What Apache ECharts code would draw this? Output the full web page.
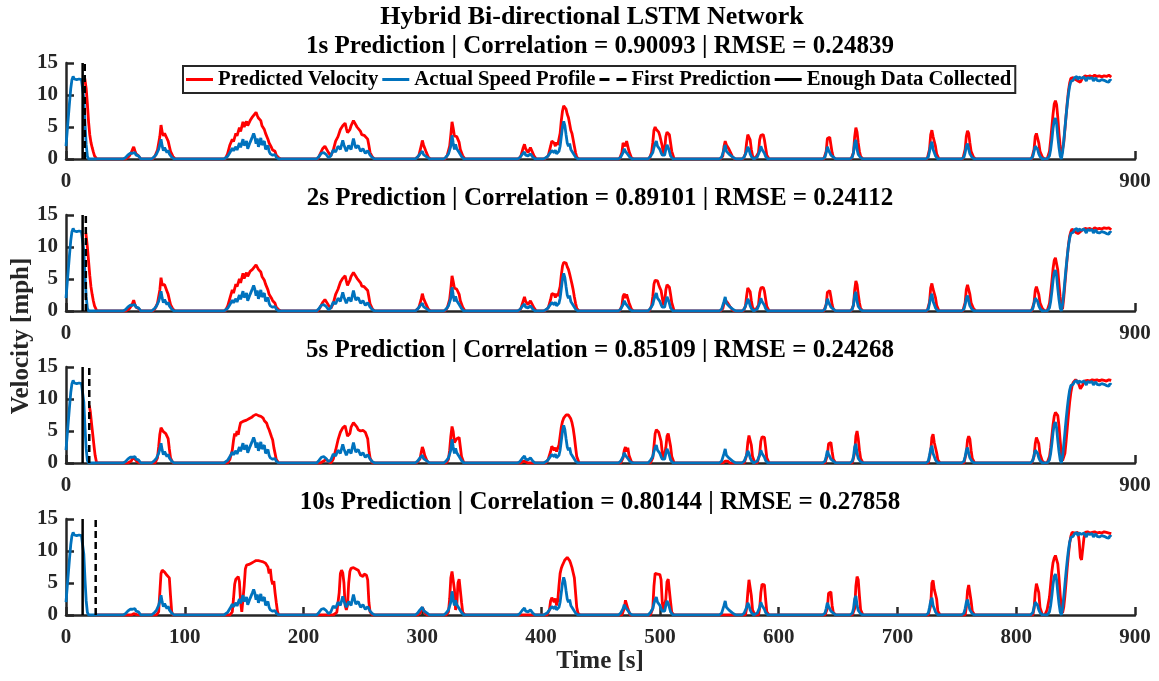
<!DOCTYPE html>
<html>
<head>
<meta charset="utf-8">
<script src="https://cdn.jsdelivr.net/npm/echarts@6/dist/echarts.min.js"></script>
<style>
  html, body { margin: 0; padding: 0; background: #fff; }
  #chart { width: 1159px; height: 681px; }
</style>
</head>
<body>
<div id="chart"></div>
<script>
// ---- data: [time (s), velocity (mph)] ----
const actualSpeed = [
  [0,2.0],[1,4.3],[2,6.6],[3,8.9],[4,11.0],[5,12.4],[6,12.9],[7,12.5],[8,12.8],[9,12.4],[10,12.7],[11,12.5],[12,12.6],[13,12.4],[14,12.5],[15,9.5],[16,5.5],[17,2.2],[18,0.4],[19,0],
  [48,0],[50,0.2],[52,0.6],[54,0.9],[55,0.6],[56,0.9],[57,0.7],[58,1.0],[59,0.6],[60,0.9],[61,0.5],[63,0],
  [72,0],[74,0.3],[76,0.7],[78,1.5],[79,2.2],[80,3.1],[81,2.0],[82,1.3],[83,1.8],[84,1.4],[85,1.0],[86,1.4],[87,0.8],[89,0.3],[91,0],
  [133,0],[136,0.4],[138,1.0],[140,1.7],[141,1.3],[143,1.9],[144,1.4],[146,2.5],[147,1.8],[149,3.1],[150,2.1],[152,2.8],[153,1.6],[155,2.6],[157,3.5],[158,4.0],[159,3.4],[160,2.4],[161,3.2],[162,1.9],[164,3.3],[165,2.2],[167,2.8],[168,1.5],[170,2.1],[171,1.2],[172,0.8],[174,0.6],[176,0.7],[177,0.3],[179,0],
  [211,0],[213,0.4],[215,0.9],[217,1.0],[219,0.7],[221,0.2],[223,0.5],[225,1.4],[227,1.1],[229,2.0],[231,1.5],[233,2.9],[234,2.2],[236,1.2],[238,2.1],[240,1.5],[242,3.2],[243,2.4],[244,1.7],[246,2.1],[248,1.2],[250,1.6],[252,0.9],[254,1.3],[256,0.6],[258,0.2],[260,0],
  [294,0],[296,0.3],[298,0.8],[300,1.2],[301,0.7],[302,1.0],[304,0.3],[306,0],
  [318,0],[320,0.3],[322,0.8],[324,2.0],[325,3.7],[326,2.5],[327,1.5],[328,2.3],[329,1.6],[330,1.8],[331,1.0],[333,0.4],[335,0],
  [380,0],[382,0.2],[384,0.7],[386,1.1],[387,0.6],[389,0.5],[391,0.8],[393,0.3],[395,0],
  [402,0],[405,0.3],[407,0.8],[409,1.3],[411,1.0],[412,1.4],[413,0.8],[415,1.2],[416,2.0],[417,3.5],[418,5.0],[419,5.9],[420,5.2],[421,3.8],[422,2.5],[423,2.0],[424,2.4],[425,1.5],[426,1.8],[427,0.9],[429,0.3],[431,0],
  [465,0],[467,0.3],[469,1.0],[470,1.6],[471,1.2],[472,1.5],[473,0.7],[475,0.2],[477,0],
  [490,0],[492,0.4],[494,1.0],[495,1.8],[496,2.4],[497,2.8],[498,2.0],[499,2.2],[500,1.5],[501,1.0],[502,0.6],[503,0.3],[504,0.6],[505,1.5],[506,2.2],[507,1.8],[508,1.2],[509,0.5],[511,0],
  [550,0],[552,0.3],[554,1.5],[555,2.2],[556,1.2],[557,1.0],[558,0.8],[560,0.5],[562,0.2],[564,0],
  [569,0],[571,0.3],[573,1.2],[574,1.9],[575,1.5],[576,0.8],[577,0.4],[579,0],
  [580,0],[582,0.3],[584,1.2],[585,2.0],[586,1.5],[587,1.8],[588,0.9],[589,0.4],[591,0],
  [637,0],[639,0.3],[640,1.0],[641,1.9],[642,1.4],[643,1.0],[644,0.6],[646,0.3],[648,0],
  [660,0],[662,0.3],[663,1.0],[664,2.5],[665,3.0],[666,1.5],[667,0.7],[669,0.2],[671,0],
  [724,0],[726,0.3],[727,1.2],[728,2.2],[729,2.7],[730,1.5],[731,1.0],[732,0.5],[734,0],
  [754,0],[756,0.3],[757,1.0],[758,2.0],[759,2.4],[760,1.5],[761,0.8],[763,0.2],[765,0],
  [812,0],[814,0.4],[815,1.2],[816,2.0],[817,2.1],[818,1.5],[819,0.8],[820,0.4],[822,0],
  [826,0],[828,0.5],[829,1.5],[830,3.0],[831,4.8],[832,6.0],[833,6.4],[834,5.5],[835,3.5],[836,1.8],[837,0.5],[838,0],
  [839,1.0],[840,2.8],[841,4.8],[842,6.8],[843,8.6],[844,10.2],[845,11.4],[846,12.1],[847,12.4],[848,12.3],[849,12.7],[850,12.5],[851,12.9],[852,12.4],[853,12.8],[854,12.5],[855,12.6],[856,12.3],[857,12.8],[858,12.5],[859,12.2],[860,12.7],[861,12.4],[862,12.6],[863,12.3],[864,12.7],[865,12.2],[866,12.5],[867,12.7],[868,12.3],[869,12.6],[870,12.2],[871,12.5],[872,12.4],[873,12.7],[874,12.3],[875,12.6],[876,12.1],[877,12.4],[878,12.0],[879,12.4],[880,12.2]
];

const pred1s = [
  [15.8,12.6],[17,11.0],[18,8.6],[19,5.8],[20,3.8],[21,2.6],[22,1.8],[23,1.1],[24,0.5],[26,0],
  [50,0],[53,0.4],[55,1.0],[56,1.5],[57,1.9],[58,1.3],[59,0.8],[60,1.0],[61,0.5],[63,0],
  [73,0],[75,0.5],[77,1.4],[79,3.5],[80,5.3],[81,4.2],[82,3.6],[83,4.0],[84,3.7],[85,3.2],[86,2.8],[87,2.0],[88,1.2],[90,0.4],[92,0],
  [134,0],[136,0.8],[138,2.2],[140,3.1],[141,2.7],[143,4.0],[144,3.6],[146,4.9],[147,4.3],[149,5.8],[150,5.0],[152,5.9],[153,5.2],[155,6.0],[157,6.6],[158,6.9],[160,7.3],[161,6.8],[162,6.4],[163,6.6],[164,6.0],[165,5.2],[166,5.5],[167,4.6],[168,4.0],[169,4.3],[170,3.1],[171,2.5],[172,2.7],[173,1.8],[174,1.4],[176,1.2],[177,0.6],[179,0.2],[181,0],
  [212,0],[214,0.8],[216,1.6],[218,2.0],[219,1.8],[221,1.0],[223,0.5],[225,1.4],[227,2.8],[229,3.5],[231,4.6],[233,5.2],[235,5.6],[236,4.8],[237,4.1],[239,4.6],[240,5.2],[242,6.0],[243,5.7],[245,5.0],[246,4.7],[248,4.3],[249,3.8],[251,3.7],[252,3.4],[254,3.1],[255,2.1],[256,1.0],[258,0.3],[260,0],
  [294,0],[297,0.5],[299,2.0],[300,2.9],[301,2.2],[303,1.2],[305,0.3],[307,0],
  [319,0],[321,0.6],[323,2.0],[324,3.8],[325,5.8],[326,4.8],[327,3.6],[328,3.8],[329,3.5],[330,3.3],[331,2.6],[332,1.5],[334,0.5],[336,0],
  [381,0],[383,0.5],[385,1.8],[386,2.3],[387,1.6],[389,1.0],[391,1.8],[392,1.5],[394,0.5],[396,0],
  [403,0],[406,0.5],[408,2.0],[409,2.8],[410,3.0],[411,2.5],[412,2.0],[413,2.6],[414,2.2],[415,2.5],[416,4.0],[417,6.0],[418,7.5],[419,8.3],[420,8.5],[421,7.8],[422,7.0],[423,6.5],[424,5.5],[425,4.5],[426,4.0],[427,3.0],[428,2.0],[429,1.0],[430,0.3],[432,0],
  [466,0],[468,1.0],[469,2.5],[470,2.8],[471,2.0],[472,2.8],[473,2.5],[474,1.2],[476,0.2],[478,0],
  [491,0],[493,1.0],[494,2.5],[495,4.5],[496,5.0],[497,4.6],[498,4.9],[499,4.2],[500,3.6],[501,3.3],[502,2.0],[503,0.8],[504,1.5],[505,3.5],[506,4.2],[507,3.9],[508,3.8],[509,2.5],[510,1.2],[512,0],
  [551,0],[553,0.5],[554,2.0],[555,2.8],[556,2.2],[557,2.0],[558,1.6],[559,1.2],[561,0.4],[563,0],
  [570,0],[572,0.8],[573,2.5],[574,3.8],[575,3.9],[576,3.0],[577,1.5],[578,0.5],[580,0],
  [581,0],[583,1.0],[584,3.0],[585,3.7],[586,3.5],[587,3.8],[588,3.0],[589,1.8],[590,0.6],[592,0],
  [638,0],[640,1.2],[641,3.2],[642,3.0],[643,3.4],[644,2.2],[645,1.0],[646,0.3],[648,0],
  [661,0],[663,1.0],[664,3.5],[665,4.9],[666,4.2],[667,2.5],[668,1.2],[669,0.4],[671,0],
  [725,0],[727,1.5],[728,3.8],[729,4.5],[730,3.5],[731,3.6],[732,2.0],[733,0.8],[735,0],
  [755,0],[757,1.5],[758,3.6],[759,4.4],[760,4.0],[761,2.5],[762,1.2],[764,0.3],[766,0],
  [813,0],[815,1.5],[816,3.5],[817,4.0],[818,3.7],[819,2.5],[820,1.2],[822,0.3],[824,0],
  [826,0],[828,1.2],[829,3.0],[830,5.0],[831,7.0],[832,8.6],[833,9.1],[834,8.5],[835,6.5],[836,4.0],[837,2.0],[838,0.5],[839,0.3],
  [840,2.5],[841,4.6],[842,6.8],[843,8.9],[844,10.7],[845,11.9],[846,12.6],[847,12.9],[848,12.7],[850,12.4],[852,12.2],[854,12.0],[855,12.3],[856,12.7],[858,13.0],[860,12.8],[862,13.0],[864,12.8],[866,13.1],[868,12.9],[870,13.0],[872,12.8],[874,13.0],[876,12.9],[878,13.1],[880,12.8]
];

const pred2s = [
  [16.7,12.2],[18,10.0],[19,7.8],[20,5.6],[21,3.8],[22,2.6],[23,1.6],[24,0.8],[26,0],
  [50,0],[53,0.3],[55,0.8],[56,1.2],[57,1.7],[58,1.0],[59,0.6],[60,0.8],[61,0.4],[63,0],
  [73,0],[75,0.4],[77,1.2],[79,3.3],[80,5.2],[81,4.1],[82,3.8],[83,4.1],[84,3.6],[85,3.1],[86,2.6],[87,1.8],[88,1.0],[90,0.3],[92,0],
  [134,0],[136,0.7],[138,2.0],[140,3.3],[141,2.8],[143,4.2],[144,3.8],[146,5.0],[147,4.4],[149,5.9],[150,5.1],[152,6.0],[153,5.4],[155,6.2],[157,6.5],[158,6.8],[160,7.2],[161,6.9],[162,6.5],[163,6.7],[164,6.1],[165,5.4],[166,5.6],[167,4.8],[168,4.2],[169,4.4],[170,3.3],[171,2.6],[172,2.8],[173,2.0],[174,1.6],[176,1.2],[177,0.6],[179,0.2],[181,0],
  [212,0],[214,0.6],[216,1.3],[218,1.8],[219,1.6],[221,0.9],[223,0.4],[225,1.2],[227,2.6],[229,3.4],[231,4.5],[233,5.1],[235,5.5],[236,4.7],[237,4.0],[239,4.8],[240,5.4],[242,6.0],[243,5.8],[245,5.1],[246,4.8],[248,4.4],[249,3.9],[251,3.8],[252,3.5],[254,3.2],[255,2.2],[256,1.1],[258,0.3],[260,0],
  [294,0],[297,0.5],[299,1.8],[300,2.7],[301,2.0],[303,1.1],[305,0.3],[307,0],
  [319,0],[321,0.5],[323,1.8],[324,3.5],[325,5.5],[326,4.6],[327,3.6],[328,3.8],[329,3.4],[330,3.2],[331,2.6],[332,1.6],[334,0.6],[336,0],
  [381,0],[383,0.4],[385,1.6],[386,2.2],[387,1.5],[389,1.0],[391,1.6],[392,1.4],[394,0.5],[396,0],
  [403,0],[406,0.5],[408,1.8],[409,2.7],[410,3.0],[411,2.6],[412,2.1],[413,2.7],[414,2.3],[415,2.6],[416,3.8],[417,5.6],[418,7.0],[419,7.6],[420,7.8],[421,7.5],[422,6.9],[423,6.5],[424,5.8],[425,5.0],[426,4.2],[427,3.3],[428,2.2],[429,1.2],[430,0.4],[432,0],
  [466,0],[468,0.8],[469,2.3],[470,2.7],[471,2.0],[472,2.6],[473,2.4],[474,1.3],[476,0.3],[478,0],
  [491,0],[493,0.8],[494,2.2],[495,4.2],[496,4.8],[497,4.5],[498,4.7],[499,4.1],[500,3.6],[501,3.2],[502,2.1],[503,0.9],[504,1.4],[505,3.3],[506,4.1],[507,4.0],[508,3.7],[509,2.6],[510,1.3],[512,0],
  [551,0],[553,0.4],[554,1.2],[555,1.7],[556,1.4],[557,1.3],[558,1.0],[559,0.7],[561,0.2],[563,0],
  [570,0],[572,0.7],[573,2.3],[574,3.6],[575,3.7],[576,3.0],[577,1.6],[578,0.6],[580,0],
  [581,0],[583,0.9],[584,2.8],[585,3.6],[586,3.4],[587,3.7],[588,3.1],[589,1.9],[590,0.7],[592,0],
  [638,0],[640,1.0],[641,2.9],[642,2.8],[643,3.2],[644,2.2],[645,1.0],[646,0.3],[648,0],
  [661,0],[663,0.9],[664,3.3],[665,4.7],[666,4.1],[667,2.6],[668,1.3],[669,0.4],[671,0],
  [725,0],[727,1.4],[728,3.6],[729,4.3],[730,3.4],[731,3.5],[732,2.1],[733,0.9],[735,0],
  [755,0],[757,1.3],[758,3.4],[759,4.1],[760,3.9],[761,2.6],[762,1.3],[764,0.4],[766,0],
  [813,0],[815,1.3],[816,3.2],[817,3.8],[818,3.6],[819,2.6],[820,1.3],[822,0.4],[824,0],
  [826,0],[828,1.2],[829,2.8],[830,4.6],[831,6.6],[832,7.9],[833,8.3],[834,8.0],[835,6.4],[836,4.2],[837,2.2],[838,0.7],[839,0.3],
  [840,2.0],[841,4.2],[842,6.4],[843,8.5],[844,10.4],[845,11.7],[846,12.4],[847,12.8],[848,12.6],[850,12.3],[852,12.1],[854,12.4],[856,12.7],[858,12.9],[860,12.8],[862,12.9],[864,12.7],[866,13.0],[868,12.8],[870,12.9],[872,12.8],[874,13.0],[876,12.9],[878,13.0],[880,12.7]
];

const pred5s = [
  [19.6,9.0],[20.5,8.0],[21.5,6.2],[22.5,4.5],[23.5,2.8],[24.5,1.2],[25.8,0],
  [52,0],[55,0.3],[56,0.8],[57,1.1],[58,0.6],[60,0.2],[62,0],
  [75,0],[77,0.8],[78,2.5],[79,4.5],[80,5.5],[81,5.3],[82,4.9],[83,5.0],[84,4.6],[85,4.8],[86,3.8],[87,2.2],[88,0.8],[90,0],
  [136,0],[138,0.6],[140,2.0],[141,3.5],[142,4.6],[143,4.2],[144,5.0],[145,4.4],[146,5.5],[147,6.3],[148,6.0],[149,6.5],[150,6.4],[152,6.7],[154,6.9],[156,7.1],[158,7.4],[160,7.6],[162,7.4],[164,7.3],[166,7.0],[167,6.6],[168,6.3],[169,6.2],[170,5.6],[171,5.2],[172,5.0],[173,4.1],[174,3.6],[175,2.4],[176,1.5],[177,0.6],[179,0],
  [214,0],[217,0.3],[219,0.6],[221,0.2],[223,0],[225,0.6],[227,2.0],[229,3.6],[231,4.8],[233,5.5],[235,5.8],[236,5.0],[237,4.2],[238,4.0],[239,4.6],[240,5.6],[242,6.3],[243,6.1],[245,5.6],[246,5.2],[248,5.0],[250,5.1],[252,4.8],[253,4.9],[254,3.8],[255,2.0],[256,0.8],[258,0],
  [295,0],[298,0.6],[299,1.6],[300,2.5],[301,2.0],[302,1.2],[304,0.3],[306,0],
  [320,0],[322,0.6],[323,2.0],[324,4.2],[325,5.7],[326,4.9],[327,3.2],[328,3.0],[329,3.8],[330,4.1],[331,4.0],[332,2.5],[333,1.0],[335,0],
  [383,0],[385,0.3],[386,0.5],[387,0.2],[389,0],
  [404,0],[406,0.6],[408,1.8],[409,2.6],[410,2.9],[411,2.0],[412,2.4],[413,1.8],[414,2.1],[415,2.8],[416,4.2],[417,5.6],[418,6.5],[419,7.0],[420,7.3],[421,7.5],[422,7.6],[423,7.5],[424,7.3],[425,6.9],[426,6.3],[427,5.4],[428,4.1],[429,2.5],[430,1.0],[432,0],
  [467,0],[469,0.8],[470,2.0],[471,2.5],[472,1.8],[473,2.4],[474,1.2],[476,0.2],[478,0],
  [492,0],[494,0.8],[495,2.6],[496,4.6],[497,5.2],[498,5.4],[499,4.8],[500,4.5],[501,3.4],[502,1.6],[503,0.5],[504,0.6],[505,2.4],[506,4.2],[507,4.6],[508,4.4],[509,2.6],[510,1.0],[512,0],
  [553,0],[555,0.3],[556,0.5],[557,0.3],[559,0],
  [571,0],[573,1.2],[574,3.2],[575,4.3],[576,4.2],[577,2.8],[578,1.0],[580,0],
  [582,0],[584,1.4],[585,3.4],[586,4.1],[587,3.9],[588,4.0],[589,2.5],[590,0.8],[592,0],
  [639,0],[641,1.2],[642,3.0],[643,3.3],[644,3.2],[645,1.8],[646,0.6],[648,0],
  [662,0],[664,1.6],[665,4.2],[666,5.0],[667,3.8],[668,2.0],[669,0.7],[671,0],
  [726,0],[728,1.8],[729,4.0],[730,4.5],[731,3.2],[732,3.4],[733,1.6],[734,0.5],[736,0],
  [756,0],[758,1.6],[759,3.6],[760,4.2],[761,3.7],[762,2.0],[763,0.7],[765,0],
  [813,0],[815,1.0],[816,3.0],[817,4.0],[818,4.1],[819,3.0],[820,1.4],[822,0.3],[824,0],
  [826,0],[828,1.0],[829,2.4],[830,4.2],[831,6.0],[832,7.3],[833,7.9],[834,8.0],[835,7.4],[836,5.8],[837,3.5],[838,1.5],[839,0.4],[840,0.3],
  [841,1.5],[842,3.4],[843,5.5],[844,7.6],[845,9.5],[846,11.0],[847,12.0],[848,12.6],[849,12.9],[850,13.0],[852,12.7],[854,11.6],[855,11.4],[856,12.2],[857,12.8],[858,13.0],[860,12.9],[862,12.8],[864,13.0],[866,12.9],[868,13.0],[870,12.8],[872,13.0],[874,12.9],[876,12.8],[878,13.0],[880,12.9]
];

const pred10s = [
  [25,0],
  [55,0],[57,0.2],[58,0.4],[59,0.1],[61,0],
  [76,0],[78,0.5],[79,3.5],[80,6.5],[81,7.0],[82,6.9],[83,6.7],[84,6.8],[85,6.2],[86,6.0],[87,5.8],[88,3.0],[89,0.5],[90,0],
  [138,0],[140,0.5],[141,2.5],[142,4.8],[143,5.6],[144,5.8],[145,6.0],[146,5.2],[147,2.0],[148,0.5],[149,0.8],[150,4.5],[151,7.2],[152,7.8],[154,7.9],[156,8.1],[158,8.3],[160,8.5],[162,8.5],[164,8.4],[166,8.3],[168,8.1],[169,7.9],[170,7.5],[171,6.5],[172,7.2],[173,5.5],[174,4.8],[175,5.3],[176,3.5],[177,2.0],[178,0.6],[179,0],
  [225,0],[228,0.4],[230,3.5],[231,6.5],[232,7.0],[233,6.6],[234,5.0],[235,1.5],[236,0.8],[237,1.5],[238,5.0],[239,6.8],[240,7.3],[241,7.5],[242,7.4],[244,7.2],[246,7.0],[247,6.6],[248,6.2],[249,6.5],[250,6.0],[251,6.4],[252,6.1],[253,6.2],[254,5.5],[255,2.0],[256,0.5],[258,0],
  [296,0],[298,0.3],[300,1.2],[301,1.0],[302,0.4],[304,0],
  [320,0],[322,0.5],[323,2.5],[324,5.8],[325,6.8],[326,6.5],[327,4.0],[328,0.8],[329,1.5],[330,5.0],[331,5.6],[332,5.3],[333,2.0],[334,0.4],[336,0],
  [405,0],[407,0.8],[408,2.2],[409,2.7],[410,2.5],[411,2.0],[412,2.6],[413,1.5],[414,2.2],[415,4.5],[416,6.5],[417,7.3],[418,7.8],[419,8.2],[420,8.6],[421,8.9],[422,9.0],[423,8.8],[424,8.5],[425,8.0],[426,7.4],[427,6.6],[428,5.8],[429,3.5],[430,1.2],[431,0.3],[433,0],
  [468,0],[470,1.0],[471,2.3],[472,2.0],[473,1.0],[475,0],
  [492,0],[494,1.0],[495,4.5],[496,6.5],[497,6.7],[498,6.4],[499,6.5],[500,6.3],[501,5.5],[502,2.0],[503,0.5],[504,0.3],[505,2.5],[506,5.2],[507,5.6],[508,5.4],[509,2.0],[510,0.4],[512,0],
  [572,0],[573,1.0],[574,3.5],[575,5.5],[576,5.3],[577,3.0],[578,0.8],[580,0],
  [583,0],[584,1.0],[585,3.5],[586,4.8],[587,4.6],[588,4.7],[589,2.5],[590,0.5],[592,0],
  [639,0],[641,1.0],[642,3.4],[643,3.7],[644,3.6],[645,1.5],[646,0.4],[648,0],
  [662,0],[664,1.0],[665,4.5],[666,6.0],[667,5.5],[668,3.0],[669,0.8],[671,0],
  [726,0],[728,1.5],[729,5.0],[730,5.4],[731,4.0],[732,4.3],[733,2.5],[734,0.6],[736,0],
  [757,0],[758,1.2],[759,3.8],[760,4.7],[761,4.4],[762,2.2],[763,0.6],[765,0],
  [814,0],[815,1.0],[816,3.5],[817,4.9],[818,4.8],[819,3.5],[820,1.2],[822,0],
  [824,0],[826,0.8],[828,2.8],[829,4.8],[830,6.8],[831,8.2],[832,8.9],[833,9.3],[834,9.1],[835,8.0],[836,5.8],[837,3.2],[838,1.2],[839,0.3],
  [840,1.2],[841,3.0],[842,5.2],[843,7.5],[844,9.5],[845,11.2],[846,12.3],[847,12.9],[848,13.0],[850,12.8],[852,12.9],[853,11.5],[854,9.0],[855,8.6],[856,8.8],[857,12.0],[858,12.9],[860,13.0],[862,12.8],[864,12.9],[866,13.0],[868,12.8],[870,12.9],[872,12.8],[874,13.0],[876,12.9],[878,12.8],[880,12.7]
];

// per-panel metadata
const horizonLabels = ['1s', '2s', '5s', '10s'];
const correlations = ['0.90093', '0.89101', '0.85109', '0.80144'];
const rmses = ['0.24839', '0.24112', '0.24268', '0.27858'];
const predictions = [pred1s, pred2s, pred5s, pred10s];
const enoughDataTime = 14;                          // s, same in every panel
const firstPredictionTimes = [15.8, 16.7, 19.6, 25]; // s
const xTicksTop = [0, 900];
const xTicksBottom = [0, 100, 200, 300, 400, 500, 600, 700, 800, 900];
const yTicks = [0, 5, 10, 15];

// ---- layout ----
const FONT = '"Liberation Serif", "Times New Roman", serif';
const AXIS_COLOR = '#262626';
const RED = '#ff0000';
const BLUE = '#0072bd';
const LINE_W = 2.8;
const panelTops = [63, 215, 367, 519];
const panelHeight = 96;
const plotLeft = 66, plotRight = 1135;

// legend glyphs: plain line, and a two-dash line
const ICON_SOLID = 'rect';
const ICON_DASHED = 'path://M0,0h10v3H0z M17,0h10v3H17z';

const grids = [], xAxes = [], yAxes = [], series = [], graphics = [];

predictions.forEach((pred, i) => {
  grids.push({ left: plotLeft, width: plotRight - plotLeft, top: panelTops[i], height: panelHeight, outerBoundsMode: 'none' });
  const ticks = i === 3 ? xTicksBottom : xTicksTop;
  xAxes.push({
    gridIndex: i, type: 'value', min: ticks[0], max: ticks[ticks.length - 1],
    interval: ticks[1] - ticks[0],
    axisLine: { show: true, onZero: false, lineStyle: { color: AXIS_COLOR, width: 2.5 } },
    axisTick: { show: true, inside: true, length: 8, lineStyle: { color: AXIS_COLOR, width: 2.5 } },
    axisLabel: { show: true, margin: 12, color: AXIS_COLOR, fontFamily: FONT, fontWeight: 'bold', fontSize: 21, showMinLabel: true, showMaxLabel: true, hideOverlap: false },
    splitLine: { show: false }
  });
  yAxes.push({
    gridIndex: i, type: 'value', min: yTicks[0], max: yTicks[yTicks.length - 1], interval: yTicks[1] - yTicks[0],
    axisLine: { show: true, lineStyle: { color: AXIS_COLOR, width: 2.5 } },
    axisTick: { show: true, inside: true, length: 8, lineStyle: { color: AXIS_COLOR, width: 2.5 } },
    axisLabel: { show: true, margin: 8, color: AXIS_COLOR, fontFamily: FONT, fontWeight: 'bold', fontSize: 21, showMinLabel: true, showMaxLabel: true },
    splitLine: { show: false }
  });
  series.push({
    name: 'Predicted Velocity', type: 'line', xAxisIndex: i, yAxisIndex: i,
    data: pred, symbol: 'none', z: 2, animation: false,
    lineStyle: { color: RED, width: LINE_W }, itemStyle: { color: RED }
  });
  series.push({
    name: 'Actual Speed Profile', type: 'line', xAxisIndex: i, yAxisIndex: i,
    data: actualSpeed, symbol: 'none', z: 3, animation: false,
    lineStyle: { color: BLUE, width: LINE_W }, itemStyle: { color: BLUE }
  });
  series.push({
    name: 'First Prediction', type: 'line', xAxisIndex: i, yAxisIndex: i,
    data: [[firstPredictionTimes[i], yTicks[0]], [firstPredictionTimes[i], yTicks[yTicks.length - 1]]],
    symbol: 'none', z: 4, animation: false,
    lineStyle: { color: '#000', width: 2.5, type: [7, 4] }, itemStyle: { color: '#000' }
  });
  series.push({
    name: 'Enough Data Collected', type: 'line', xAxisIndex: i, yAxisIndex: i,
    data: [[enoughDataTime, yTicks[0]], [enoughDataTime, yTicks[yTicks.length - 1]]],
    symbol: 'none', z: 4, animation: false,
    lineStyle: { color: '#000', width: 2.5 }, itemStyle: { color: '#000' }
  });
  const subtitle = horizonLabels[i] + ' Prediction | Correlation = ' + correlations[i] + ' | RMSE = ' + rmses[i];
  graphics.push({
    type: 'text', x: 600, y: panelTops[i] - 16,
    style: { text: subtitle, fill: '#000', font: 'bold 25px ' + FONT, textAlign: 'center', textVerticalAlign: 'middle' }
  });
});

graphics.push({
  type: 'text', x: 592, y: 17,
  style: { text: 'Hybrid Bi-directional LSTM Network', fill: '#000', font: 'bold 26px ' + FONT, textAlign: 'center', textVerticalAlign: 'middle' }
});
graphics.push({
  type: 'text', x: 22, y: 336, rotation: Math.PI / 2,
  style: { text: 'Velocity [mph]', fill: AXIS_COLOR, font: 'bold 25px ' + FONT, textAlign: 'center', textVerticalAlign: 'middle' }
});
graphics.push({
  type: 'text', x: 600, y: 662,
  style: { text: 'Time [s]', fill: AXIS_COLOR, font: 'bold 25px ' + FONT, textAlign: 'center', textVerticalAlign: 'middle' }
});

const chart = echarts.init(document.getElementById('chart'), null, { renderer: 'canvas' });
chart.setOption({
  backgroundColor: '#fff',
  animation: false,
  grid: grids,
  xAxis: xAxes,
  yAxis: yAxes,
  legend: {
    data: [
      { name: 'Predicted Velocity', icon: ICON_SOLID },
      { name: 'Actual Speed Profile', icon: ICON_SOLID },
      { name: 'First Prediction', icon: ICON_DASHED },
      { name: 'Enough Data Collected', icon: ICON_SOLID }
    ],
    left: 183, top: 66, orient: 'horizontal',
    itemWidth: 27, itemHeight: 3, itemGap: 4,
    padding: [3, 4, 3, 3],
    borderColor: AXIS_COLOR, borderWidth: 2, backgroundColor: '#fff',
    selectedMode: false, z: 10,
    textStyle: { color: '#000', fontFamily: FONT, fontWeight: 'bold', fontSize: 20.7 }
  },
  series: series,
  graphic: graphics
});
</script>
</body>
</html>
